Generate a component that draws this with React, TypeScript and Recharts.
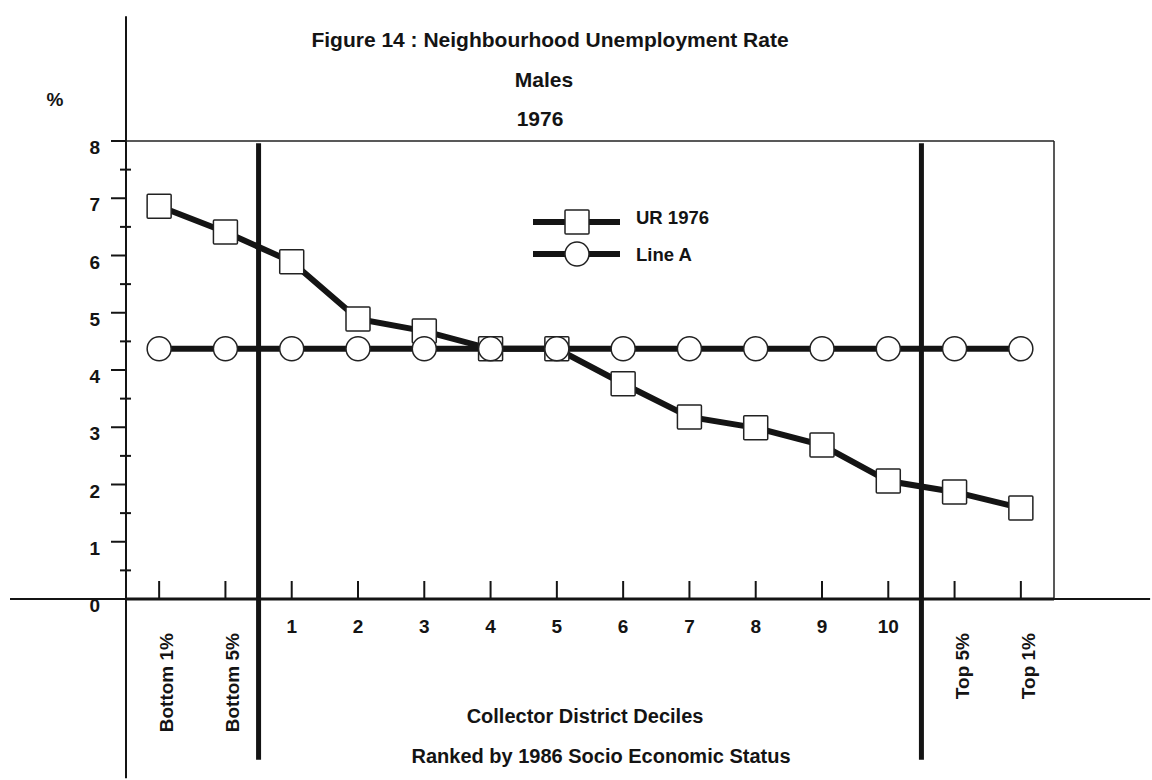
import React from 'react';
import { LineChart, Line, XAxis, YAxis, ReferenceLine, Legend } from 'recharts';

// categories along the x axis (ranked by 1986 SES)
const categories = ['Bottom 1%', 'Bottom 5%', '1', '2', '3', '4', '5', '6', '7', '8', '9', '10', 'Top 5%', 'Top 1%'];
// unemployment rate, males, 1976 (%)
const ur1976 = [6.86, 6.41, 5.89, 4.89, 4.68, 4.37, 4.37, 3.76, 3.18, 2.99, 2.69, 2.06, 1.87, 1.59];
// reference level
const lineA = [4.37, 4.37, 4.37, 4.37, 4.37, 4.37, 4.37, 4.37, 4.37, 4.37, 4.37, 4.37, 4.37, 4.37];
const yTicks = [0, 0.5, 1, 1.5, 2, 2.5, 3, 3.5, 4, 4.5, 5, 5.5, 6, 6.5, 7, 7.5, 8];
const xTicks = [0, 1, 2, 3, 4, 5, 6, 7, 8, 9, 10, 11, 12, 13];
const seriesNames = ['UR 1976', 'Line A'];

const data = categories.map((label, i) => ({ idx: i, label, ur: ur1976[i], lineA: lineA[i] }));

const FONT = '"Liberation Sans", Arial, sans-serif';
const INK = '#141414';

const YTick = (props: any) => {
  const { x, y, payload } = props;
  const v = payload.value as number;
  if (v % 1 !== 0) {
    return <line x1={x - 6} x2={x + 5} y1={y} y2={y} stroke={INK} strokeWidth={2} />;
  }
  return (
    <g>
      <line x1={x - 15} x2={x} y1={y} y2={y} stroke={INK} strokeWidth={2} />
      <text x={x - 26} y={y + 13} textAnchor="end" fontFamily={FONT} fontWeight="bold" fontSize={19} fill={INK}>
        {v}
      </text>
    </g>
  );
};

const XTick = (props: any) => {
  const { x, y, payload } = props;
  const label = categories[payload.value] ?? '';
  const isWord = label.length > 2;
  return (
    <g>
      <line x1={x} x2={x} y1={y - 18} y2={y} stroke={INK} strokeWidth={2} />
      {isWord ? (
        <text
          x={x + 14}
          y={y + 34}
          transform={`rotate(-90, ${x + 14}, ${y + 34})`}
          textAnchor="end"
          fontFamily={FONT}
          fontWeight="bold"
          fontSize={19}
          fill={INK}
        >
          {label}
        </text>
      ) : (
        <text x={x} y={y + 34} textAnchor="middle" fontFamily={FONT} fontWeight="bold" fontSize={19} fill={INK}>
          {label}
        </text>
      )}
    </g>
  );
};

const SquareDot = (props: any) => {
  const { cx, cy } = props;
  if (cx == null || cy == null) return null;
  return <rect x={cx - 12} y={cy - 12} width={24} height={24} fill="#fff" stroke="#222" strokeWidth={1.5} rx={1} />;
};

const CircleDot = (props: any) => {
  const { cx, cy } = props;
  if (cx == null || cy == null) return null;
  return <circle cx={cx} cy={cy} r={12} fill="#fff" stroke="#222" strokeWidth={1.5} />;
};

const renderLegend = (props: any) => {
  const { payload } = props;
  return (
    <svg width={260} height={75}>
      {(payload || []).map((entry: any) => {
        const row = seriesNames.indexOf(entry.value);
        const ly = row === 0 ? 22 : 54;
        const ty = row === 0 ? 24 : 61;
        return (
          <g key={entry.value}>
            <line x1={13} x2={100} y1={ly} y2={ly} stroke={INK} strokeWidth={6} />
            {row === 0 ? (
              <rect x={45} y={ly - 12} width={24} height={24} fill="#fff" stroke="#222" strokeWidth={1.5} rx={1} />
            ) : (
              <circle cx={57} cy={ly} r={12} fill="#fff" stroke="#222" strokeWidth={1.5} />
            )}
            <text x={116} y={ty} fontFamily={FONT} fontWeight="bold" fontSize={18.5} fill={INK}>
              {entry.value}
            </text>
          </g>
        );
      })}
    </svg>
  );
};

export default function App() {
  return (
    <div style={{ position: 'absolute', left: 0, top: 0, width: 1152, height: 780, background: '#fff' }}>
      <LineChart width={1152} height={780} data={data} margin={{ top: 141, right: 98, bottom: 151, left: 86 }}>
        <XAxis
          dataKey="idx"
          type="number"
          domain={[-0.5, 13.5]}
          ticks={xTicks}
          interval={0}
          height={30}
          tickSize={0}
          tickMargin={0}
          tickLine={false}
          axisLine={{ stroke: INK, strokeWidth: 3 }}
          tick={<XTick />}
        />
        <YAxis
          type="number"
          domain={[0, 8]}
          ticks={yTicks}
          interval={0}
          width={40}
          tickSize={0}
          tickMargin={0}
          tickLine={false}
          axisLine={false}
          tick={<YTick />}
        />
        {/* long axis lines running past the plot frame */}
        <ReferenceLine segment={[{ x: -0.5, y: 10.18 }, { x: -0.5, y: -3.13 }]} stroke={INK} strokeWidth={2} ifOverflow="visible" />
        <ReferenceLine segment={[{ x: -2.25, y: 0 }, { x: 14.95, y: 0 }]} stroke={INK} strokeWidth={2} ifOverflow="visible" />
        {/* plot frame */}
        <ReferenceLine y={8} stroke="#222" strokeWidth={1.5} ifOverflow="visible" />
        <ReferenceLine x={13.5} stroke="#222" strokeWidth={1.5} ifOverflow="visible" />
        {/* group dividers */}
        <ReferenceLine segment={[{ x: 1.5, y: 7.96 }, { x: 1.5, y: -2.81 }]} stroke={INK} strokeWidth={5} ifOverflow="visible" />
        <ReferenceLine segment={[{ x: 11.5, y: 7.96 }, { x: 11.5, y: -2.81 }]} stroke={INK} strokeWidth={5} ifOverflow="visible" />
        <Line
          dataKey="ur"
          name="UR 1976"
          stroke={INK}
          strokeWidth={6}
          dot={<SquareDot />}
          activeDot={false}
          isAnimationActive={false}
        />
        <Line
          dataKey="lineA"
          name="Line A"
          stroke={INK}
          strokeWidth={6}
          dot={<CircleDot />}
          activeDot={false}
          isAnimationActive={false}
        />
        <Legend
          layout="vertical"
          align="center"
          verticalAlign="middle"
          content={renderLegend}
          wrapperStyle={{ position: 'absolute', left: 520, top: 200, width: 260, height: 75 }}
        />
      </LineChart>
      <svg width={1152} height={780} style={{ position: 'absolute', left: 0, top: 0, pointerEvents: 'none' }}>
        <g fontFamily={FONT} fontWeight="bold" fill={INK}>
          <text x={550} y={47} textAnchor="middle" fontSize={21}>Figure 14 : Neighbourhood Unemployment Rate</text>
          <text x={544} y={87} textAnchor="middle" fontSize={21}>Males</text>
          <text x={540} y={126} textAnchor="middle" fontSize={21}>1976</text>
          <text x={55} y={106} textAnchor="middle" fontSize={19}>%</text>
          <text x={585} y={723} textAnchor="middle" fontSize={20}>Collector District Deciles</text>
          <text x={601} y={763} textAnchor="middle" fontSize={20}>Ranked by 1986 Socio Economic Status</text>
        </g>
      </svg>
    </div>
  );
}
